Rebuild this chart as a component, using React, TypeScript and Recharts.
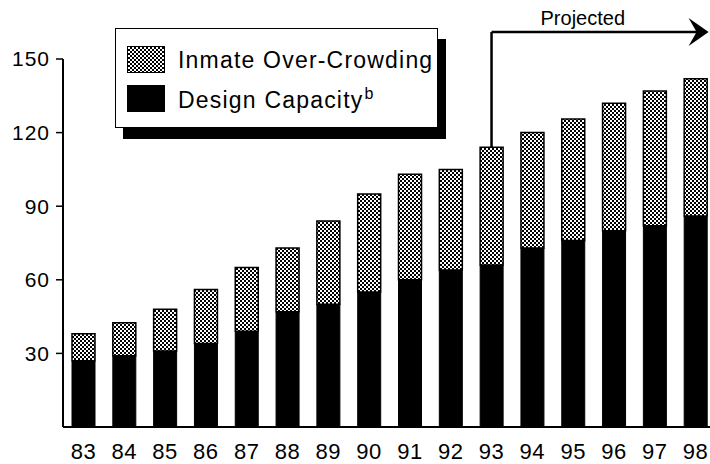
import { BarChart, Bar, XAxis, YAxis, Legend, ReferenceLine } from 'recharts';

const years = ['83', '84', '85', '86', '87', '88', '89', '90', '91', '92', '93', '94', '95', '96', '97', '98'];
const designCapacity = [27, 29, 31, 34, 39, 47, 50, 55, 60, 64, 66, 73, 76, 80, 82, 86];
const overCrowding = [11, 13.5, 17, 22, 26, 26, 34, 40, 43, 41, 48, 47, 49.5, 52, 55, 56];
const yTicks = [30, 60, 90, 120, 150];

// projected-years annotation
const projectedFrom = '93';
const projectedTo = '98';
const arrowLevel = 161;

const FONT = '"Liberation Sans", Arial, Helvetica, sans-serif';

const data = years.map((year, i) => ({
  year,
  design: designCapacity[i],
  over: overCrowding[i],
}));

const startIdx = years.indexOf(projectedFrom);
const projectedBase = designCapacity[startIdx] + overCrowding[startIdx];

const ditherBg = 'repeating-conic-gradient(#000 0 25%, #fff 0 50%) 0 0 / 4px 4px';

function LegendBox({ payload }: any) {
  const items = [...(payload || [])].sort((a: any) => (a.dataKey === 'over' ? -1 : 1));
  return (
    <div
      style={{
        position: 'relative',
        width: 323,
        height: 100,
        border: '1.5px solid #000',
        boxSizing: 'border-box',
        background: '#fff',
        boxShadow: '8px 11px 0 #000',
        fontFamily: FONT,
        color: '#000',
      }}
    >
      {items.map((item: any, i: number) => (
        <div key={item.dataKey}>
          <div
            style={{
              position: 'absolute',
              left: 11,
              top: 17 + i * 39,
              width: 38,
              height: 27,
              boxSizing: 'border-box',
              border: '1.5px solid #000',
              background: item.dataKey === 'over' ? ditherBg : '#000',
            }}
          />
          <div
            style={{
              position: 'absolute',
              left: 62,
              top: 20 + i * 40,
              fontSize: 23,
              lineHeight: '23px',
              letterSpacing: 1.2,
              whiteSpace: 'nowrap',
            }}
          >
            {item.value}
            {item.dataKey === 'design' && (
              <span style={{ fontSize: 16, position: 'relative', top: -9, marginLeft: 1, letterSpacing: 0 }}>b</span>
            )}
          </div>
        </div>
      ))}
    </div>
  );
}

function ProjectedArrow(props: any) {
  const { x1, y1, x2, y2 } = props;
  const tip = x2 + 13;
  return (
    <g>
      <line x1={x1} y1={y1} x2={tip - 8} y2={y2} stroke="#000" strokeWidth={2.5} />
      <path d={`M${tip},${y2} L${tip - 20},${y2 - 14} L${tip - 12},${y2} L${tip - 20},${y2 + 14} Z`} fill="#000" />
      <text x={x1 + 49} y={y1 - 7} fontSize={20} fontFamily={FONT} fill="#000">
        Projected
      </text>
    </g>
  );
}

export default function App() {
  return (
    <div style={{ position: 'absolute', left: 0, top: 0, width: 710, height: 464, overflow: 'hidden', background: '#fff' }}>
      <BarChart width={716} height={464} data={data} margin={{ top: 59, right: 0, bottom: 0, left: 0 }} barCategoryGap={0}>
        <defs>
          <pattern id="dither" patternUnits="userSpaceOnUse" width={4} height={4}>
            <rect x={0} y={0} width={4} height={4} fill="#fff" />
            <rect x={0} y={0} width={2} height={2} fill="#000" />
            <rect x={2} y={2} width={2} height={2} fill="#000" />
          </pattern>
        </defs>
        <XAxis
          dataKey="year"
          height={37}
          tickLine={false}
          tickSize={0}
          tickMargin={16}
          axisLine={{ stroke: '#000', strokeWidth: 2 }}
          tick={{ fontSize: 22, fill: '#000', fontFamily: FONT, letterSpacing: 0.5 }}
          interval={0}
        />
        <YAxis
          width={63}
          domain={[0, 150]}
          ticks={yTicks}
          tickSize={7}
          tickMargin={6}
          axisLine={{ stroke: '#000', strokeWidth: 2 }}
          tickLine={{ stroke: '#000', strokeWidth: 1.5 }}
          tick={{ fontSize: 21, fill: '#000', fontFamily: FONT, letterSpacing: 1 }}
        />
        <Legend
          layout="horizontal"
          verticalAlign="middle"
          align="center"
          content={<LegendBox />}
          wrapperStyle={{ left: 115, top: 28, width: 'auto', height: 'auto' }}
        />
        <Bar dataKey="design" name="Design Capacity" stackId="a" fill="#000" stroke="#000" strokeWidth={1} barSize={23} isAnimationActive={false} />
        <Bar dataKey="over" name="Inmate Over-Crowding" stackId="a" fill="url(#dither)" stroke="#000" strokeWidth={1.5} barSize={23} isAnimationActive={false} />
        <ReferenceLine
          segment={[{ x: projectedFrom, y: projectedBase }, { x: projectedFrom, y: arrowLevel }]}
          stroke="#000"
          strokeWidth={2.5}
          ifOverflow="visible"
        />
        <ReferenceLine
          segment={[{ x: projectedFrom, y: arrowLevel }, { x: projectedTo, y: arrowLevel }]}
          ifOverflow="visible"
          shape={<ProjectedArrow />}
        />
      </BarChart>
    </div>
  );
}
